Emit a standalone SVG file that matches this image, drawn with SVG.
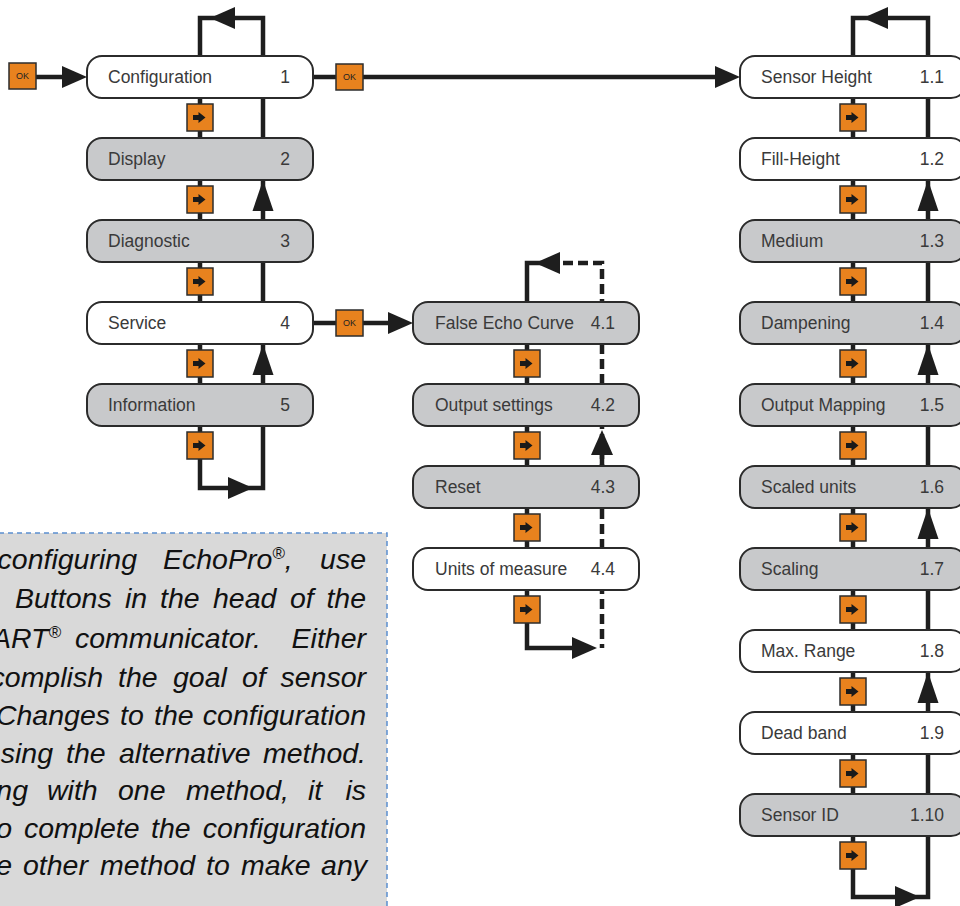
<svg xmlns="http://www.w3.org/2000/svg" xmlns:xlink="http://www.w3.org/1999/xlink" width="960" height="906" viewBox="0 0 960 906">
<style>
.bg{fill:#ffffff}
.ln{fill:none;stroke:#1e1e1e;stroke-width:4.5;stroke-linejoin:miter}
.dash{fill:none;stroke:#1e1e1e;stroke-width:4.5;stroke-dasharray:10 5}
.ah{fill:#1e1e1e}
.box{stroke:#2b2b2b;stroke-width:2}
.w{fill:#ffffff}
.g{fill:#c8c9cb}
.lbl{font-family:"Liberation Sans",Arial,sans-serif;font-size:17.5px;fill:#3a3a3a}
.num{font-family:"Liberation Sans",Arial,sans-serif;font-size:17.5px;fill:#3a3a3a;text-anchor:end}
.btn{fill:#e8821e;stroke:#2d2d2d;stroke-width:1.5}
.ico{fill:#1a1a1a}
.ok{font-family:"Liberation Sans",Arial,sans-serif;font-size:9px;fill:#222;text-anchor:middle}
.note{fill:#d9d9d9;stroke:#5b8fd0;stroke-width:1.5;stroke-dasharray:5 4}
.nt{font-family:"Liberation Sans",Arial,sans-serif;font-size:28.5px;font-style:italic;fill:#111}
.e{text-anchor:end}
.sup{font-size:17px}
</style>
<defs>
<path id="ah" d="M0,0 L-25,-11 L-25,11 Z"/>
<path id="ahu" d="M0,0 L-31,-10.5 L-31,10.5 Z"/>
<g id="nb"><rect class="btn" x="-13" y="-13.5" width="26" height="27"/><path class="ico" d="M-7,-2.5 H-1.5 V-5.5 L5.5,0 L-1.5,5.5 V2.5 H-7 Z"/></g>
<g id="okb"><rect class="btn" x="-13.5" y="-13" width="27" height="26"/><text class="ok" x="0" y="3.2">OK</text></g>
</defs>
<rect class="bg" x="0" y="0" width="960" height="906"/>

<g id="note">
<rect class="note" x="-10" y="533" width="397" height="400"/>
<text class="nt e" x="137" y="569">configuring</text>
<text class="nt" y="569"><tspan x="163">EchoPro</tspan><tspan class="sup" dy="-10">®</tspan><tspan dy="10">,</tspan></text>
<text class="nt e" x="366" y="569">use</text>

<text class="nt" y="608"><tspan x="15">Buttons</tspan><tspan x="125">in</tspan><tspan x="160">the</tspan><tspan x="213">head</tspan><tspan x="290">of</tspan></text>
<text class="nt e" x="366" y="608">the</text>

<text class="nt e" x="61" y="648">ART<tspan class="sup" dy="-10">®</tspan></text>
<text class="nt" x="75" y="648">communicator.</text>
<text class="nt e" x="366" y="648">Either</text>

<text class="nt e" x="103" y="687">complish</text>
<text class="nt" y="687"><tspan x="118">the</tspan><tspan x="173">goal</tspan><tspan x="242">of</tspan></text>
<text class="nt e" x="366" y="687">sensor</text>

<text class="nt e" x="110" y="725">Changes</text>
<text class="nt" y="725"><tspan x="120">to</tspan><tspan x="154">the</tspan></text>
<text class="nt e" x="366" y="725">configuration</text>

<text class="nt e" x="53" y="763">sing</text>
<text class="nt" y="763"><tspan x="66">the</tspan><tspan x="119">alternative</tspan></text>
<text class="nt e" x="366" y="763">method.</text>

<text class="nt e" x="28" y="800">ng</text>
<text class="nt" y="800"><tspan x="47">with</tspan><tspan x="118">one</tspan><tspan x="186">method,</tspan><tspan x="308">it</tspan></text>
<text class="nt e" x="366" y="800">is</text>

<text class="nt e" x="12" y="838">o</text>
<text class="nt" y="838"><tspan x="24">complete</tspan><tspan x="151">the</tspan></text>
<text class="nt e" x="366" y="838">configuration</text>

<text class="nt e" x="12" y="875">e</text>
<text class="nt" y="875"><tspan x="23">other</tspan><tspan x="100">method</tspan><tspan x="206">to</tspan><tspan x="241">make</tspan></text>
<text class="nt e" x="367" y="875">any</text>
</g>

<g id="connectors">
<path class="ln" d="M200,18 V488 H263 V18 Z"/>
<path class="ln" d="M36,77 H70"/>
<path class="ln" d="M313,77 H720"/>
<path class="ln" d="M313,323 H395"/>
<path class="ln" d="M545,263 H527 V648 H575"/>
<path class="dash" d="M563,263 H602 V648"/>
<path class="ln" d="M602,440 V466"/>
<path class="ln" d="M853,18 V897 H928 V18 Z"/>
</g>

<g id="nodes">
<g id="n1"><rect class="box w" x="87" y="56" width="226" height="42" rx="15"/><text class="lbl" x="108" y="83">Configuration</text><text class="num" x="290" y="83">1</text></g>
<g id="n2"><rect class="box g" x="87" y="138" width="226" height="42" rx="15"/><text class="lbl" x="108" y="165">Display</text><text class="num" x="290" y="165">2</text></g>
<g id="n3"><rect class="box g" x="87" y="220" width="226" height="42" rx="15"/><text class="lbl" x="108" y="247">Diagnostic</text><text class="num" x="290" y="247">3</text></g>
<g id="n4"><rect class="box w" x="87" y="302" width="226" height="42" rx="15"/><text class="lbl" x="108" y="329">Service</text><text class="num" x="290" y="329">4</text></g>
<g id="n5"><rect class="box g" x="87" y="384" width="226" height="42" rx="15"/><text class="lbl" x="108" y="411">Information</text><text class="num" x="290" y="411">5</text></g>

<g id="n41"><rect class="box g" x="413" y="302" width="226" height="42" rx="15"/><text class="lbl" x="435" y="329">False Echo Curve</text><text class="num" x="615" y="329">4.1</text></g>
<g id="n42"><rect class="box g" x="413" y="384" width="226" height="42" rx="15"/><text class="lbl" x="435" y="411">Output settings</text><text class="num" x="615" y="411">4.2</text></g>
<g id="n43"><rect class="box g" x="413" y="466" width="226" height="42" rx="15"/><text class="lbl" x="435" y="493">Reset</text><text class="num" x="615" y="493">4.3</text></g>
<g id="n44"><rect class="box w" x="413" y="548" width="226" height="42" rx="15"/><text class="lbl" x="435" y="575">Units of measure</text><text class="num" x="615" y="575">4.4</text></g>

<g id="n11"><rect class="box w" x="740" y="56" width="226" height="42" rx="15"/><text class="lbl" x="761" y="83">Sensor Height</text><text class="num" x="944" y="83">1.1</text></g>
<g id="n12"><rect class="box w" x="740" y="138" width="226" height="42" rx="15"/><text class="lbl" x="761" y="165">Fill-Height</text><text class="num" x="944" y="165">1.2</text></g>
<g id="n13"><rect class="box g" x="740" y="220" width="226" height="42" rx="15"/><text class="lbl" x="761" y="247">Medium</text><text class="num" x="944" y="247">1.3</text></g>
<g id="n14"><rect class="box g" x="740" y="302" width="226" height="42" rx="15"/><text class="lbl" x="761" y="329">Dampening</text><text class="num" x="944" y="329">1.4</text></g>
<g id="n15"><rect class="box g" x="740" y="384" width="226" height="42" rx="15"/><text class="lbl" x="761" y="411">Output Mapping</text><text class="num" x="944" y="411">1.5</text></g>
<g id="n16"><rect class="box g" x="740" y="466" width="226" height="42" rx="15"/><text class="lbl" x="761" y="493">Scaled units</text><text class="num" x="944" y="493">1.6</text></g>
<g id="n17"><rect class="box g" x="740" y="548" width="226" height="42" rx="15"/><text class="lbl" x="761" y="575">Scaling</text><text class="num" x="944" y="575">1.7</text></g>
<g id="n18"><rect class="box w" x="740" y="630" width="226" height="42" rx="15"/><text class="lbl" x="761" y="657">Max. Range</text><text class="num" x="944" y="657">1.8</text></g>
<g id="n19"><rect class="box w" x="740" y="712" width="226" height="42" rx="15"/><text class="lbl" x="761" y="739">Dead band</text><text class="num" x="944" y="739">1.9</text></g>
<g id="n110"><rect class="box g" x="740" y="794" width="226" height="42" rx="15"/><text class="lbl" x="761" y="821">Sensor ID</text><text class="num" x="944" y="821">1.10</text></g>
</g>

<g id="arrowheads">
<use xlink:href="#ah" class="ah" transform="translate(87,77)"/>
<use xlink:href="#ah" class="ah" transform="translate(740,77)"/>
<use xlink:href="#ah" class="ah" transform="translate(413,323)"/>
<use xlink:href="#ah" class="ah" transform="translate(210,18) rotate(180)"/>
<use xlink:href="#ah" class="ah" transform="translate(253,488)"/>
<use xlink:href="#ahu" class="ah" transform="translate(263,180) rotate(-90)"/>
<use xlink:href="#ahu" class="ah" transform="translate(263,344) rotate(-90)"/>
<use xlink:href="#ah" class="ah" transform="translate(535,263) rotate(180)"/>
<use xlink:href="#ah" class="ah" transform="translate(602,430) rotate(-90)"/>
<use xlink:href="#ah" class="ah" transform="translate(597,648)"/>
<use xlink:href="#ah" class="ah" transform="translate(863,18) rotate(180)"/>
<use xlink:href="#ah" class="ah" transform="translate(920,897)"/>
<use xlink:href="#ahu" class="ah" transform="translate(928,180) rotate(-90)"/>
<use xlink:href="#ahu" class="ah" transform="translate(928,344) rotate(-90)"/>
<use xlink:href="#ahu" class="ah" transform="translate(928,508) rotate(-90)"/>
<use xlink:href="#ahu" class="ah" transform="translate(928,672) rotate(-90)"/>
</g>

<g id="buttons">
<use xlink:href="#okb" transform="translate(22.5,76)"/>
<use xlink:href="#okb" transform="translate(349.5,77)"/>
<use xlink:href="#okb" transform="translate(349.5,323)"/>
<use xlink:href="#nb" transform="translate(200,117.5)"/>
<use xlink:href="#nb" transform="translate(200,199.5)"/>
<use xlink:href="#nb" transform="translate(200,281.5)"/>
<use xlink:href="#nb" transform="translate(200,363.5)"/>
<use xlink:href="#nb" transform="translate(200,445.5)"/>
<use xlink:href="#nb" transform="translate(527,363.5)"/>
<use xlink:href="#nb" transform="translate(527,445.5)"/>
<use xlink:href="#nb" transform="translate(527,527.5)"/>
<use xlink:href="#nb" transform="translate(527,609.5)"/>
<use xlink:href="#nb" transform="translate(853,117.5)"/>
<use xlink:href="#nb" transform="translate(853,199.5)"/>
<use xlink:href="#nb" transform="translate(853,281.5)"/>
<use xlink:href="#nb" transform="translate(853,363.5)"/>
<use xlink:href="#nb" transform="translate(853,445.5)"/>
<use xlink:href="#nb" transform="translate(853,527.5)"/>
<use xlink:href="#nb" transform="translate(853,609.5)"/>
<use xlink:href="#nb" transform="translate(853,691.5)"/>
<use xlink:href="#nb" transform="translate(853,773.5)"/>
<use xlink:href="#nb" transform="translate(853,855.5)"/>
</g>
</svg>
